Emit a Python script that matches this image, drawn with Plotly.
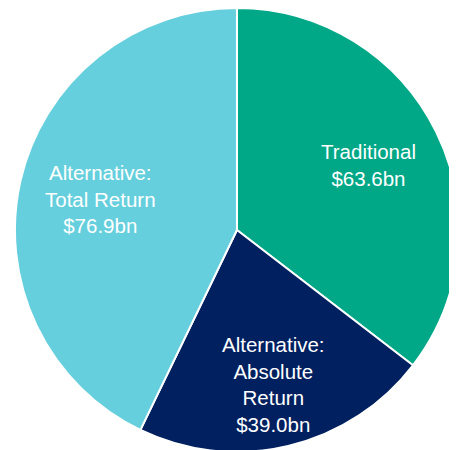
import math
import plotly.graph_objects as go

categories = ["Traditional", "Alternative: Absolute Return", "Alternative: Total Return"]
labels_text = ["Traditional<br>$63.6bn", "Alternative:<br>Absolute<br>Return<br>$39.0bn", "Alternative:<br>Total Return<br>$76.9bn"]
values = [63.6, 39.0, 76.9]
colors = ["#00A887", "#002060", "#66CFDD"]
label_radius = [0.66, 0.715, 0.63]  # fraction of pie radius where labels sit

W, H = 457, 450
dom_x = [0.015, 0.987]
dom_y = [0.0133, 1.0]

fig = go.Figure(go.Pie(
    labels=categories,
    values=values,
    textinfo="none",
    marker=dict(colors=colors, line=dict(color="white", width=2)),
    sort=False,
    direction="clockwise",
    rotation=0,
    domain=dict(x=dom_x, y=dom_y),
    showlegend=False,
    hoverinfo="label+value",
))

# label placement derived from slice mid-angles
cx = (dom_x[0] + dom_x[1]) / 2 * W
cy = (dom_y[0] + dom_y[1]) / 2 * H
R = min((dom_x[1] - dom_x[0]) * W, (dom_y[1] - dom_y[0]) * H) / 2
total = sum(values)
start = 90.0
for txt, v, rf in zip(labels_text, values, label_radius):
    sweep = 360.0 * v / total
    mid = math.radians(start - sweep / 2)
    start -= sweep
    px = cx + rf * R * math.cos(mid)
    py = cy + rf * R * math.sin(mid)
    fig.add_annotation(
        x=px / W, y=py / H, xref="paper", yref="paper",
        text=txt, showarrow=False, align="center",
        xanchor="center", yanchor="middle",
        font=dict(family="Liberation Sans, Arial, sans-serif", size=20.5, color="white"),
    )

fig.update_layout(
    width=W, height=H,
    margin=dict(l=0, r=0, t=0, b=0),
    paper_bgcolor="white",
    plot_bgcolor="white",
)
fig.write_html("out.html")
